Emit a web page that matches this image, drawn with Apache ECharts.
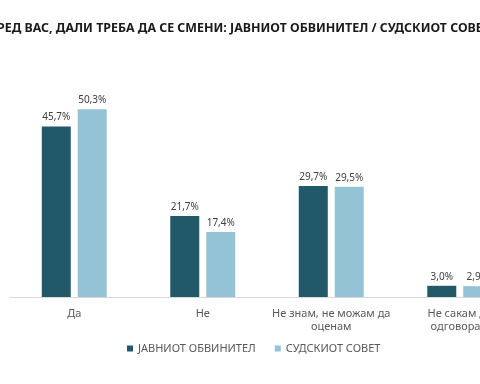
<!DOCTYPE html>
<html><head><meta charset="utf-8">
<script src="https://cdn.jsdelivr.net/npm/echarts@6/dist/echarts.min.js"></script>
<style>
html,body{margin:0;padding:0;width:480px;height:384px;overflow:hidden;background:#fff;position:relative}
#c{position:absolute;left:-40px;top:0;width:580px;height:384px}
</style></head><body>
<div id="c"></div>
<script>
const titleText = 'СПОРЕД ВАС, ДАЛИ ТРЕБА ДА СЕ СМЕНИ: ЈАВНИОТ ОБВИНИТЕЛ / СУДСКИОТ СОВЕТ';
const categories = ['Да', 'Не', 'Не знам, не можам да\nоценам', 'Не сакам да\nодговорам'];
const seriesNames = ['ЈАВНИОТ ОБВИНИТЕЛ', 'СУДСКИОТ СОВЕТ'];
const javniot = [45.7, 21.7, 29.7, 3.0];
const sudskiot = [50.3, 17.4, 29.5, 2.9];

const font = '"Noto Sans", "DejaVu Sans", sans-serif';
const chart = echarts.init(document.getElementById('c'));
const lbl = {
  show: true, position: 'top', distance: 4, color: '#404040', fontSize: 10, fontFamily: font,
  formatter: p => p.value.toFixed(1).replace('.', ',') + '%'
};
chart.setOption({
  animation: false,
  title: {
    text: titleText, left: 5, top: 17,
    textStyle: { fontFamily: font, fontWeight: 'bold', fontSize: 12.4, color: '#1a1a1a' }
  },
  legend: {
    data: seriesNames, left: 162, top: 338, itemWidth: 6, itemHeight: 6, itemGap: 19,
    icon: 'rect',
    textStyle: { fontFamily: font, fontSize: 11, color: '#595959' }
  },
  grid: { left: 50, width: 514, top: 73, bottom: 87 },
  xAxis: {
    type: 'category', data: categories,
    axisLine: { lineStyle: { color: '#d9d9d9', width: 1 } },
    axisTick: { show: false },
    axisLabel: { fontFamily: font, fontSize: 11, color: '#595959', margin: 10, lineHeight: 13, interval: 0 }
  },
  yAxis: { type: 'value', min: 0, max: 60, show: false, splitLine: { show: false } },
  series: [
    { name: seriesNames[0], type: 'bar', data: javniot, barWidth: 29, barGap: '24%',
      itemStyle: { color: '#215968' }, label: lbl },
    { name: seriesNames[1], type: 'bar', data: sudskiot, barWidth: 29,
      itemStyle: { color: '#93C3D5' }, label: lbl }
  ]
});
</script>
</body></html>
